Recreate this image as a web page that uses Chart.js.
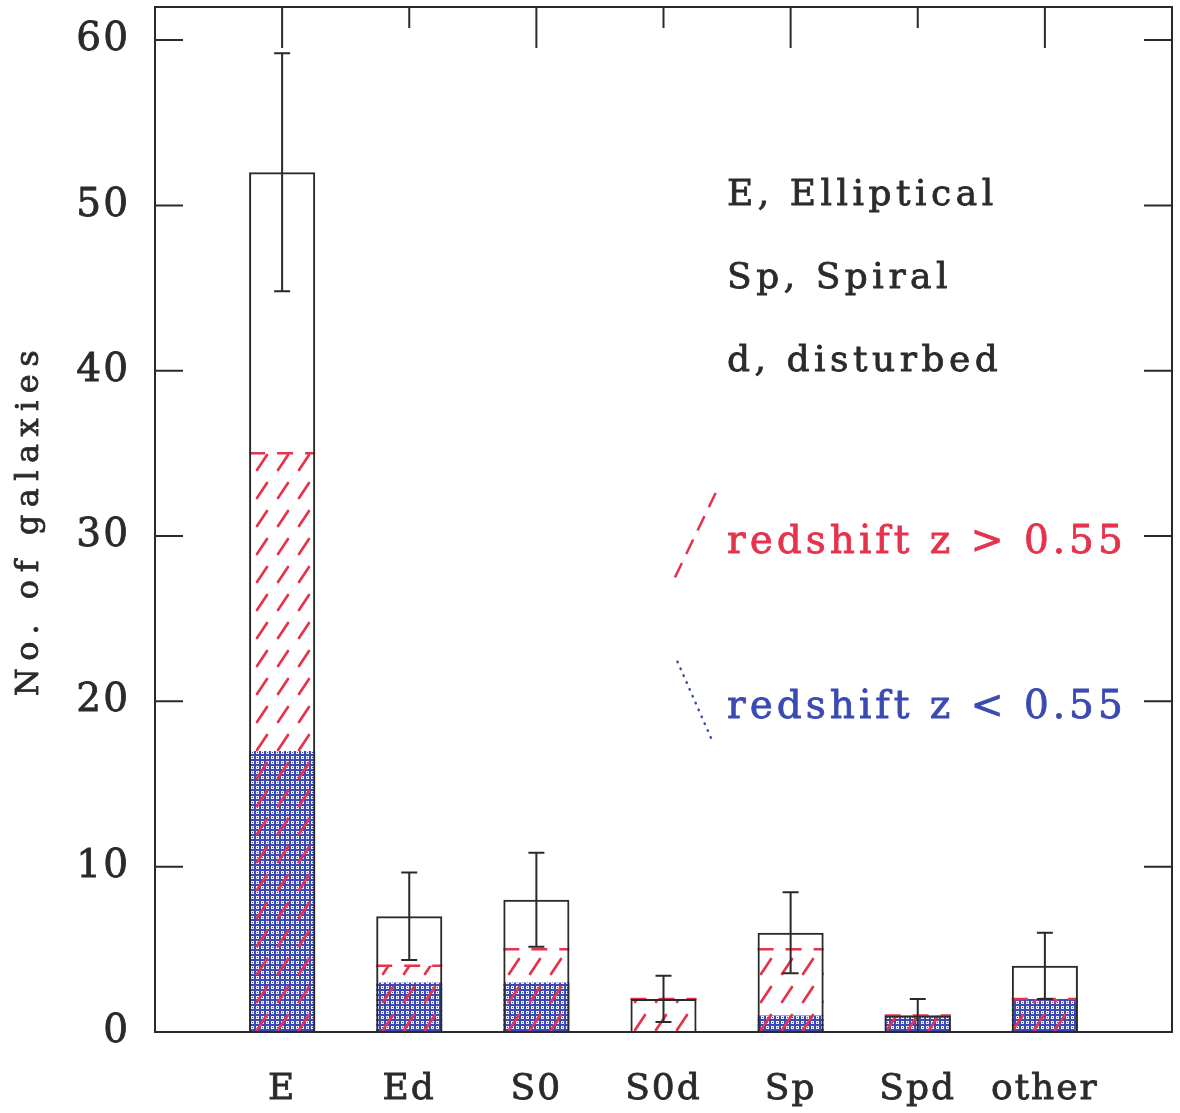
<!DOCTYPE html>
<html>
<head>
<meta charset="utf-8">
<script src="https://cdn.jsdelivr.net/npm/chart.js@4.4.1/dist/chart.umd.min.js"></script>
<style>
  html, body { margin: 0; padding: 0; background: #fff; }
</style>
</head>
<body>
<canvas id="myChart" width="1180" height="1113"></canvas>
<script>
// galaxy counts per morphological type
const categories = ["E", "Ed", "S0", "S0d", "Sp", "Spd", "other"];
const totalCounts = [52, 7, 8, 2, 6, 1, 4];
const totalErrors = [7.2, 2.65, 2.85, 1.4, 2.45, 1.0, 2.0];
const highZCounts = [35, 4, 5, 2, 5, 1, 2];
const lowZCounts = [17, 3, 3, 0, 1, 1, 2];
const typeNotes = ["E, Elliptical", "Sp, Spiral", "d, disturbed"];
const redshiftLabels = ["redshift z > 0.55", "redshift z < 0.55"];
const yTitle = "No. of galaxies";

const INK = "#2a2a2a";
const RED = "#e6334d";
const BLUE = "#3a4ab2";
const FONT = "'DejaVu Serif', serif";

Chart.defaults.font.family = FONT;
Chart.defaults.color = INK;

function hatchPattern() {
  const c = document.createElement("canvas");
  c.width = 21;
  c.height = 28;
  const g = c.getContext("2d");
  g.strokeStyle = RED;
  g.lineWidth = 2.7;
  g.lineCap = "round";
  g.beginPath();
  g.moveTo(5, 22);
  g.lineTo(15, 7);
  g.stroke();
  return g.createPattern(c, "repeat");
}

function dotPattern() {
  const c = document.createElement("canvas");
  c.width = 5;
  c.height = 5;
  const g = c.getContext("2d");
  g.fillStyle = BLUE;
  g.fillRect(0, 0, 5, 5);
  g.fillStyle = "#eef0fb";
  g.fillRect(1, 1, 3, 3);
  g.fillStyle = BLUE;
  g.fillRect(2, 2, 1, 1);
  return g.createPattern(c, "repeat");
}

const toPoints = (vals) => vals.map((v, i) => ({ x: i + 1, y: v }));

// filled text with a thin outline so it reads as heavy as the scan
function heavyText(ctx, text, x, y, color) {
  ctx.fillStyle = color;
  ctx.strokeStyle = color;
  ctx.lineWidth = 0.8;
  ctx.setLineDash([]);
  ctx.strokeText(text, x, y);
  ctx.fillText(text, x, y);
}

const decorations = {
  id: "decorations",
  beforeDraw(chart) {
    chart.ctx.letterSpacing = "2px";
  },
  afterDatasetDraw(chart, args) {
    // dashed red edge on top of the z > 0.55 bars
    if (args.index !== 1) return;
    const ctx = chart.ctx;
    ctx.save();
    ctx.strokeStyle = RED;
    ctx.lineWidth = 2.5;
    ctx.setLineDash([16, 12]);
    args.meta.data.forEach((bar, i) => {
      if (highZCounts[i] <= 0) return;
      const half = bar.width / 2;
      ctx.beginPath();
      ctx.moveTo(bar.x - half, bar.y);
      ctx.lineTo(bar.x + half, bar.y);
      ctx.stroke();
    });
    ctx.restore();
  },
  afterDatasetsDraw(chart) {
    const ctx = chart.ctx;
    const { left, right, top, bottom } = chart.chartArea;
    const xs = chart.scales.x;
    const ys = chart.scales.y;

    ctx.save();
    ctx.strokeStyle = INK;
    ctx.lineWidth = 2;

    // error bars
    chart.getDatasetMeta(0).data.forEach((bar, i) => {
      const lo = ys.getPixelForValue(Math.max(0, totalCounts[i] - totalErrors[i]));
      const hi = ys.getPixelForValue(totalCounts[i] + totalErrors[i]);
      ctx.beginPath();
      ctx.moveTo(bar.x, lo);
      ctx.lineTo(bar.x, hi);
      ctx.moveTo(bar.x - 8, lo);
      ctx.lineTo(bar.x + 8, lo);
      ctx.moveTo(bar.x - 8, hi);
      ctx.lineTo(bar.x + 8, hi);
      ctx.stroke();
    });

    // frame
    ctx.strokeRect(left, top, right - left, bottom - top);

    // inward ticks, left and right
    ys.ticks.forEach((t) => {
      const y = ys.getPixelForValue(t.value);
      const len = t.value % 10 === 0 ? 28 : 14;
      ctx.beginPath();
      ctx.moveTo(left, y);
      ctx.lineTo(left + len, y);
      ctx.moveTo(right, y);
      ctx.lineTo(right - len, y);
      ctx.stroke();
    });

    // top ticks at the categories
    xs.ticks.forEach((t) => {
      if (t.value < 1 || t.value > categories.length) return;
      const x = xs.getPixelForValue(t.value);
      const len = t.value % 2 === 1 ? 41 : 21;
      ctx.beginPath();
      ctx.moveTo(x, top);
      ctx.lineTo(x, top + len);
      ctx.stroke();
    });

    // notes
    ctx.textAlign = "left";
    ctx.textBaseline = "alphabetic";
    ctx.letterSpacing = "4.5px";
    ctx.font = "36px " + FONT;
    const tx = xs.getPixelForValue(4.5);
    [50, 45, 40].forEach((v, i) => {
      heavyText(ctx, typeNotes[i], tx, ys.getPixelForValue(v), INK);
    });

    ctx.font = "39px " + FONT;
    ctx.letterSpacing = "4px";
    heavyText(ctx, redshiftLabels[0], tx, ys.getPixelForValue(29), RED);
    heavyText(ctx, redshiftLabels[1], tx, ys.getPixelForValue(19), BLUE);

    // legend samples
    ctx.lineWidth = 2.5;
    ctx.strokeStyle = RED;
    ctx.setLineDash([16, 10]);
    ctx.beginPath();
    ctx.moveTo(xs.getPixelForValue(4.09), ys.getPixelForValue(27.5));
    ctx.lineTo(xs.getPixelForValue(4.41), ys.getPixelForValue(32.6));
    ctx.stroke();
    ctx.strokeStyle = BLUE;
    ctx.lineCap = "round";
    ctx.setLineDash([0.5, 7]);
    ctx.beginPath();
    ctx.moveTo(xs.getPixelForValue(4.11), ys.getPixelForValue(22.4));
    ctx.lineTo(xs.getPixelForValue(4.39), ys.getPixelForValue(17.5));
    ctx.stroke();
    ctx.setLineDash([]);
    ctx.lineCap = "butt";

    // y axis title
    ctx.translate(ys.left + 30, (top + bottom) / 2);
    ctx.rotate(-Math.PI / 2);
    ctx.textAlign = "center";
    ctx.textBaseline = "middle";
    ctx.font = "32px " + FONT;
    ctx.letterSpacing = "7.5px";
    heavyText(ctx, yTitle, 0, 0, INK);
    ctx.restore();
  },
  afterDraw(chart) {
    chart.ctx.letterSpacing = "0px";
  }
};

new Chart(document.getElementById("myChart"), {
  type: "bar",
  data: {
    datasets: [
      {
        label: "all",
        data: toPoints(totalCounts),
        backgroundColor: "rgba(0,0,0,0)",
        borderColor: INK,
        borderWidth: 2,
        grouped: false,
        order: 0,
      },
      {
        label: "z > 0.55",
        data: toPoints(highZCounts),
        backgroundColor: hatchPattern(),
        borderWidth: 0,
        grouped: false,
        order: 1,
      },
      {
        label: "z < 0.55",
        data: toPoints(lowZCounts),
        backgroundColor: dotPattern(),
        borderWidth: 0,
        grouped: false,
        order: 2,
      },
    ],
  },
  options: {
    responsive: false,
    animation: false,
    categoryPercentage: 1,
    barPercentage: 0.52,
    layout: { padding: { top: 7, right: 8, left: 0, bottom: 0 } },
    plugins: {
      legend: { display: false },
      tooltip: { enabled: false },
    },
    scales: {
      x: {
        type: "linear",
        offset: false,
        min: 0,
        max: 8,
        grid: { display: false, drawTicks: false },
        border: { display: false },
        afterFit: (s) => {
          s.height = 81;
          s.paddingLeft = 0;
          s.paddingRight = 0;
        },
        ticks: {
          stepSize: 1,
          autoSkip: false,
          maxRotation: 0,
          padding: 36,
          font: { size: 36 },
          color: INK,
          textStrokeColor: INK,
          textStrokeWidth: 0.8,
          callback: (v) => (v >= 1 && v <= categories.length ? categories[v - 1] : null),
        },
      },
      y: {
        min: 0,
        max: 62,
        grid: { display: false, drawTicks: false },
        border: { display: false },
        afterFit: (s) => {
          s.width = 155;
          s.paddingTop = 0;
          s.paddingBottom = 0;
        },
        ticks: {
          stepSize: 2,
          padding: 25,
          font: { size: 39 },
          color: INK,
          textStrokeColor: INK,
          textStrokeWidth: 0.8,
          callback: (v) => (v % 10 === 0 ? v : null),
        },
      },
    },
  },
  plugins: [decorations],
});
</script>
</body>
</html>
